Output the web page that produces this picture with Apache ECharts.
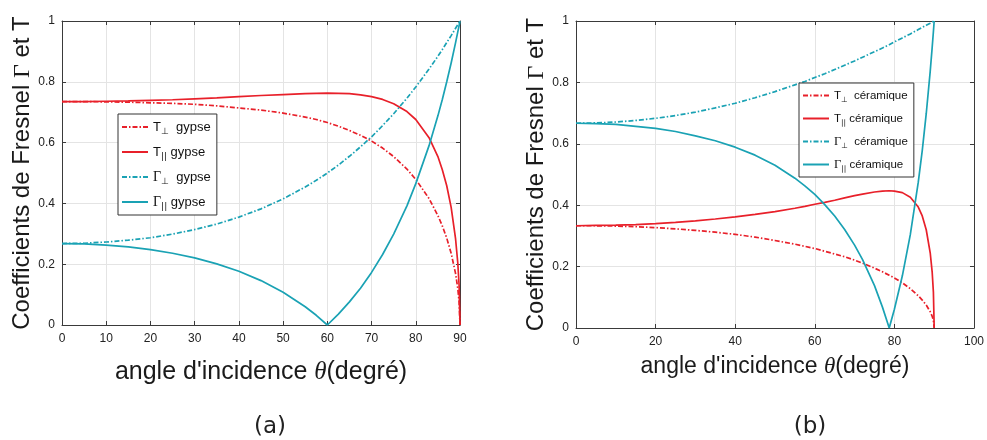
<!DOCTYPE html>
<html><head><meta charset="utf-8">
<script src="https://cdn.jsdelivr.net/npm/echarts@6/dist/echarts.min.js"></script>
<style>html,body{margin:0;padding:0;background:#fff}#c{width:987px;height:440px}</style>
</head><body><div id="c"></div>
<script>
// ---- (a) gypse ----
const anglesGypse = [0,5,10,15,20,25,30,35,40,45,50,55,57.5,60,62.5,65,67.5,70,72.5,75,78,80,83,85,86,87,88,89,89.5,89.8,90];
const tPerpGypse  = [0.735,0.735,0.734,0.733,0.731,0.729,0.726,0.721,0.714,0.707,0.697,0.684,0.676,0.666,0.654,0.640,0.624,0.605,0.582,0.554,0.513,0.479,0.416,0.360,0.326,0.286,0.236,0.169,0.120,0.076,0];
const tParGypse   = [0.735,0.735,0.736,0.737,0.739,0.741,0.744,0.747,0.751,0.755,0.758,0.761,0.762,0.763,0.762,0.761,0.757,0.751,0.742,0.728,0.702,0.676,0.616,0.554,0.511,0.458,0.387,0.283,0.204,0.130,0];
const gPerpGypse  = [0.268,0.269,0.273,0.279,0.287,0.299,0.314,0.332,0.355,0.382,0.415,0.454,0.476,0.500,0.526,0.555,0.586,0.619,0.656,0.695,0.746,0.783,0.842,0.884,0.906,0.929,0.952,0.976,0.988,0.995,1];
const gParGypse   = [0.268,0.267,0.263,0.257,0.248,0.236,0.221,0.201,0.177,0.146,0.108,0.060,0.032,0.000,0.036,0.076,0.121,0.173,0.232,0.299,0.392,0.465,0.590,0.688,0.742,0.800,0.862,0.929,0.964,0.985,1];
// ---- (b) céramique ----
const anglesCeram = [0,5,10,15,20,25,30,35,40,45,50,55,57.5,60,62.5,65,67.5,70,72,75,77,78.7,80,82,84,86,87,88,89,89.5,89.8,90];
const tPerpCeram  = [0.333,0.333,0.332,0.330,0.327,0.323,0.318,0.312,0.305,0.296,0.285,0.273,0.266,0.259,0.250,0.241,0.232,0.221,0.211,0.195,0.183,0.172,0.163,0.147,0.128,0.105,0.091,0.075,0.053,0.038,0.024,0];
const tParCeram   = [0.333,0.334,0.335,0.337,0.340,0.344,0.349,0.355,0.362,0.370,0.379,0.390,0.396,0.403,0.409,0.416,0.424,0.431,0.436,0.443,0.446,0.447,0.446,0.441,0.426,0.394,0.365,0.320,0.245,0.181,0.117,0];
const gPerpCeram  = [0.667,0.668,0.671,0.676,0.683,0.692,0.703,0.717,0.732,0.750,0.770,0.792,0.803,0.816,0.828,0.842,0.856,0.870,0.882,0.900,0.912,0.923,0.932,0.945,0.958,0.972,0.979,0.986,0.993,0.996,0.999,1];
const gParCeram   = [0.667,0.666,0.663,0.657,0.650,0.640,0.626,0.610,0.589,0.563,0.530,0.488,0.463,0.435,0.402,0.365,0.321,0.270,0.223,0.138,0.068,0.000,0.061,0.170,0.304,0.475,0.578,0.698,0.836,0.915,0.965,1];
// ---- ticks ----
const xTicksGypse = [0,10,20,30,40,50,60,70,80,90];
const xTicksCeram = [0,20,40,60,80,100];
const yTicks = [0,0.2,0.4,0.6,0.8,1];
const namesGypse = ['T⊥ gypse','T∥ gypse','Γ⊥ gypse','Γ∥ gypse'];
const namesCeram = ['T⊥ céramique','T∥ céramique','Γ⊥ céramique','Γ∥ céramique'];

const RED = '#e8202a', CYAN = '#1aa2b4', BOX = '#3a3a3a', GRID = '#e4e4e4';
const DASHDOT = [5, 2, 1.5, 2];
const pts = (xs, ys) => xs.map((x, i) => [x, ys[i]]);

function mkSeries(name, xs, ys, color, dashed, gi) {
  return { name, type: 'line', xAxisIndex: gi * 2, yAxisIndex: gi * 2, data: pts(xs, ys),
    symbol: 'none', showSymbol: false, smooth: false,
    lineStyle: { color, width: 1.7, type: dashed ? DASHDOT : 'solid' }, itemStyle: { color } };
}
function xAxes(gi, ticks, nameGap, fs) {
  const step = ticks[1] - ticks[0];
  return [{
    gridIndex: gi, type: 'value', min: ticks[0], max: ticks[ticks.length - 1], interval: step, position: 'bottom',
    axisLine: { show: true, onZero: false, lineStyle: { color: BOX } },
    axisTick: { show: true, inside: true, length: 4, lineStyle: { color: BOX } },
    axisLabel: { fontSize: 12, color: '#222', margin: 8, fontFamily: 'Liberation Sans' },
    splitLine: { show: true, lineStyle: { color: GRID } },
    name: "angle d'incidence {th|θ}(degré)", nameLocation: 'middle', nameGap,
    nameTextStyle: { fontSize: fs, fontFamily: 'Liberation Sans', color: '#1a1a1a',
      rich: { th: { fontSize: fs, fontStyle: 'italic', fontFamily: 'Liberation Serif', color: '#1a1a1a' } } }
  }, {
    gridIndex: gi, type: 'value', min: ticks[0], max: ticks[ticks.length - 1], interval: step, position: 'top',
    axisLine: { show: true, onZero: false, lineStyle: { color: BOX } },
    axisTick: { show: true, inside: true, length: 4, lineStyle: { color: BOX } },
    axisLabel: { show: false }, splitLine: { show: false }
  }];
}
function yAxes(gi, nameGap) {
  return [{
    gridIndex: gi, type: 'value', min: yTicks[0], max: yTicks[yTicks.length - 1], interval: 0.2, position: 'left',
    axisLine: { show: true, onZero: false, lineStyle: { color: BOX } },
    axisTick: { show: true, inside: true, length: 4, lineStyle: { color: BOX } },
    axisLabel: { fontSize: 12, color: '#222', margin: 7, fontFamily: 'Liberation Sans' },
    splitLine: { show: true, lineStyle: { color: GRID } },
    name: 'Coefficients de Fresnel {g|Γ} et T', nameLocation: 'middle', nameGap,
    nameTextStyle: { fontSize: 24, fontFamily: 'Liberation Sans', color: '#1a1a1a',
      rich: { g: { fontSize: 24, fontFamily: 'Liberation Serif', color: '#1a1a1a' } } }
  }, {
    gridIndex: gi, type: 'value', min: yTicks[0], max: yTicks[yTicks.length - 1], interval: 0.2, position: 'right',
    axisLine: { show: true, onZero: false, lineStyle: { color: BOX } },
    axisTick: { show: true, inside: true, length: 4, lineStyle: { color: BOX } },
    axisLabel: { show: false }, splitLine: { show: false }
  }];
}
function legendFmt(name) {
  const parts = name.split(' ');
  const sym = parts[0], mat = parts.slice(1).join(' ');
  const base = sym[0] === 'Γ' ? '{g|Γ}' : '{t|T}';
  const sub = sym[1] === '⊥' ? '{s|⊥}  ' : '{s|||} ';
  return base + sub + '{t|' + mat + '}';
}
function mkLegend(names, left, top, fs, lh, gap) {
  return {
    show: true, orient: 'vertical', left, top, data: names, itemWidth: 26, itemHeight: 12, itemGap: gap,
    backgroundColor: '#fff', borderColor: '#333', borderWidth: 1, borderRadius: 0, padding: [4, 6, 4, 3],
    itemStyle: { opacity: 0, borderWidth: 0 },
    formatter: legendFmt,
    textStyle: { fontSize: fs, fontFamily: 'Liberation Sans', color: '#111', lineHeight: lh,
      rich: {
        t: { fontSize: fs, fontFamily: 'Liberation Sans', color: '#111', lineHeight: lh },
        g: { fontSize: fs + 1, fontFamily: 'Liberation Serif', color: '#111', lineHeight: lh },
        s: { fontSize: fs - 4, fontFamily: 'DejaVu Sans', color: '#111', verticalAlign: 'bottom', lineHeight: fs - 3 }
      } }
  };
}

const chart = echarts.init(document.getElementById('c'), null, { renderer: 'canvas' });
chart.setOption({
  animation: false,
  backgroundColor: '#fff',
  grid: [
    { left: 62, right: 527, top: 21, bottom: 115, containLabel: false },
    { left: 576, right: 13, top: 21, bottom: 112, containLabel: false }
  ],
  xAxis: [...xAxes(0, xTicksGypse, 35, 25), ...xAxes(1, xTicksCeram, 27, 23)],
  yAxis: [...yAxes(0, 21), ...yAxes(1, 27)],
  legend: [mkLegend(namesGypse, 118, 114, 13, 18, 7), mkLegend(namesCeram, 799, 83, 11.5, 17, 6)],
  series: [
    mkSeries(namesGypse[0], anglesGypse, tPerpGypse, RED, true, 0),
    mkSeries(namesGypse[1], anglesGypse, tParGypse, RED, false, 0),
    mkSeries(namesGypse[2], anglesGypse, gPerpGypse, CYAN, true, 0),
    mkSeries(namesGypse[3], anglesGypse, gParGypse, CYAN, false, 0),
    mkSeries(namesCeram[0], anglesCeram, tPerpCeram, RED, true, 1),
    mkSeries(namesCeram[1], anglesCeram, tParCeram, RED, false, 1),
    mkSeries(namesCeram[2], anglesCeram, gPerpCeram, CYAN, true, 1),
    mkSeries(namesCeram[3], anglesCeram, gParCeram, CYAN, false, 1)
  ],
  graphic: [
    { type: 'text', x: 270, y: 427, style: { text: '(a)', align: 'center', verticalAlign: 'middle', textAlign: 'center', textVerticalAlign: 'middle', fontSize: 23, fontFamily: 'DejaVu Sans', fill: '#222' } },
    { type: 'text', x: 810, y: 427, style: { text: '(b)', align: 'center', verticalAlign: 'middle', textAlign: 'center', textVerticalAlign: 'middle', fontSize: 23, fontFamily: 'DejaVu Sans', fill: '#222' } }
  ]
});
</script></body></html>
